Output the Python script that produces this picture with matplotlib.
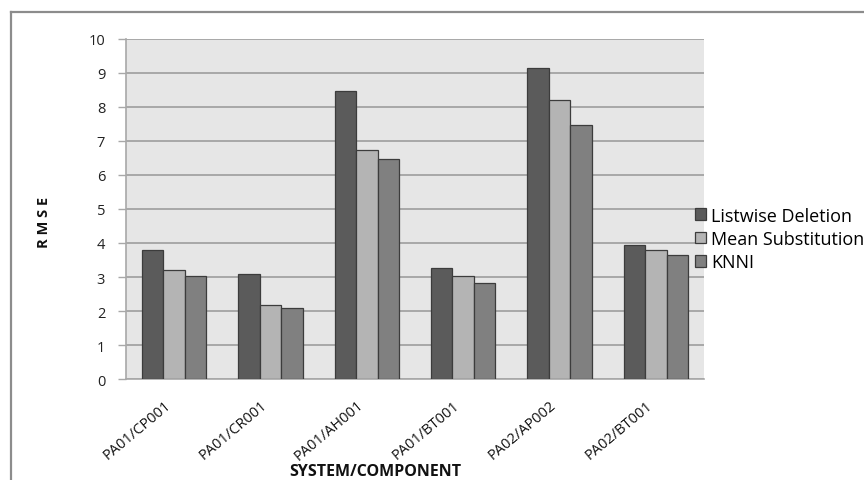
import matplotlib
matplotlib.use("Agg")
import matplotlib.pyplot as plt
import matplotlib.transforms as mtransforms
import numpy as np
from matplotlib.lines import Line2D

plt.rcParams['font.family'] = ['Open Sans', 'DejaVu Sans']

# RMSE per system/component for each imputation method
components = ["PA01/CP001", "PA01/CR001", "PA01/AH001", "PA01/BT001", "PA02/AP002", "PA02/BT001"]
listwise = [3.80, 3.09, 8.46, 3.27, 9.14, 3.95]
mean_sub = [3.20, 2.19, 6.74, 3.02, 8.20, 3.80]
knni = [3.02, 2.10, 6.46, 2.83, 7.48, 3.64]
series_names = ["Listwise Deletion", "Mean Substitution", "KNNI"]
y_ticks = list(range(0, 11))

colors = ["#5b5b5b", "#b4b4b4", "#808080"]

fig = plt.figure(figsize=(8.64, 4.81), dpi=100)
ax = fig.add_axes([126 / 864, 1 - 380 / 481, (704 - 126) / 864, (380 - 40) / 481])

x = np.arange(len(components))
w = 1 / 4.5
for i, (vals, name) in enumerate(zip([listwise, mean_sub, knni], series_names)):
    ax.bar(x + (i - 1) * w, vals, width=w, color=colors[i], edgecolor="#3c3c3c",
           linewidth=0.9, label=name, zorder=3)

ax.set_facecolor("#e6e6e6")
ax.set_xlim(-0.5, len(components) - 0.5)
ax.set_ylim(0, 10)
ax.set_yticks(y_ticks)
ax.yaxis.grid(True, color="#a3a3a3", linewidth=1.3, zorder=0)
ax.set_axisbelow(True)

for s in ["top", "right"]:
    ax.spines[s].set_visible(False)
ax.spines["left"].set_color("#a8a8a8")
ax.spines["bottom"].set_color("#a8a8a8")
ax.spines["left"].set_linewidth(1.2)
ax.spines["bottom"].set_linewidth(1.2)

ax.tick_params(axis="y", length=6, width=1, color="#a8a8a8", pad=9, labelsize=10.5, labelcolor="#222222")
ax.tick_params(axis="x", length=0, pad=13, labelsize=10.5, labelcolor="#111111")
ax.set_xticks(x)
ax.set_xticklabels(components, rotation=40, ha="right", rotation_mode="anchor")
# nudge the slanted category labels a little to the left
shift = mtransforms.ScaledTranslation(-10 / 100, 0, fig.dpi_scale_trans)
for lbl in ax.get_xticklabels():
    lbl.set_transform(lbl.get_transform() + shift)

fig.text(375 / 864, 1 - 472 / 481, "SYSTEM/COMPONENT", ha="center", va="center",
         fontsize=11.5, fontweight="bold", color="#111111")
fig.text(44 / 864, 1 - 222 / 481, "R M S E", ha="center", va="center", rotation=90,
         fontsize=10.5, fontweight="bold", color="#111111")

leg = ax.legend(loc="center left", bbox_to_anchor=(695 / 864, 1 - 240 / 481),
                bbox_transform=fig.transFigure, frameon=False, fontsize=13,
                handlelength=0.6, handleheight=0.6, handletextpad=0.3,
                labelspacing=0.3, borderpad=0, borderaxespad=0)

# outer chart border
fig.add_artist(Line2D([11 / 864, 11 / 864], [0, 1 - 13 / 481], color="#8c8c8c", linewidth=1.6))
fig.add_artist(Line2D([11 / 864, 1], [1 - 13 / 481, 1 - 13 / 481], color="#8c8c8c", linewidth=1.6))

fig.savefig("out.png", dpi=100)
